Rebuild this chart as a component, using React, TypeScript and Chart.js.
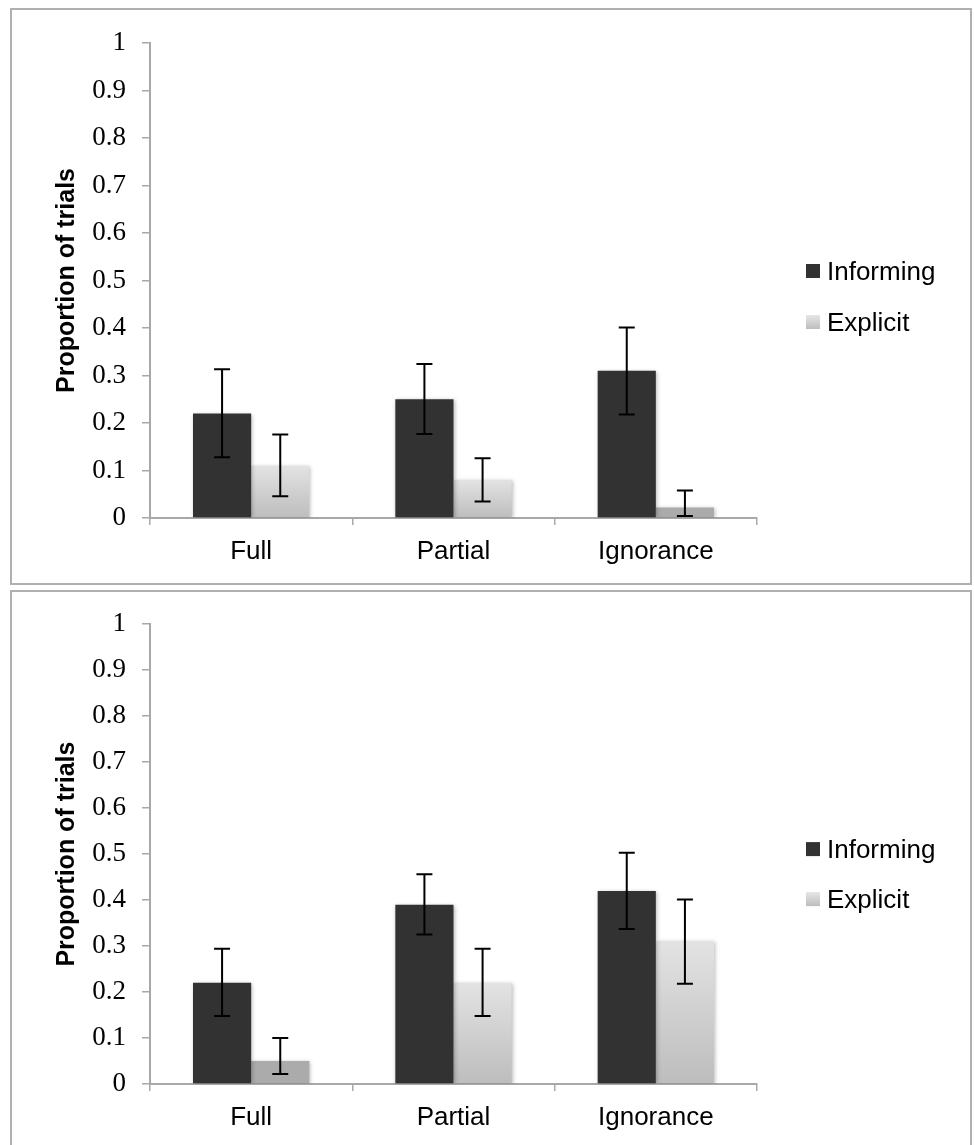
import React, { useEffect, useRef } from "react";
import { Chart, registerables } from "chart.js";

Chart.register(...registerables);

// ---- data ----
const categories = ["Full", "Partial", "Ignorance"];
const seriesNames = ["Informing", "Explicit"];
const yTickLabels = ["0", "0.1", "0.2", "0.3", "0.4", "0.5", "0.6", "0.7", "0.8", "0.9", "1"];
const yAxisTitle = "Proportion of trials";

// top panel
const p1Informing = [0.22, 0.25, 0.31];
const p1InformingLow = [0.128, 0.177, 0.218];
const p1InformingHigh = [0.313, 0.324, 0.401];
const p1Explicit = [0.11, 0.08, 0.022];
const p1ExplicitLow = [0.046, 0.035, 0.004];
const p1ExplicitHigh = [0.176, 0.126, 0.058];

// bottom panel
const p2Informing = [0.22, 0.39, 0.42];
const p2InformingLow = [0.148, 0.325, 0.337];
const p2InformingHigh = [0.294, 0.456, 0.503];
const p2Explicit = [0.05, 0.22, 0.31];
const p2ExplicitLow = [0.022, 0.148, 0.218];
const p2ExplicitHigh = [0.1, 0.294, 0.401];

const INFORMING_COLOR = "#323232";
const AXIS_COLOR = "#a8a8a8";

type PanelProps = {
  informing: number[];
  informingLow: number[];
  informingHigh: number[];
  explicit: number[];
  explicitLow: number[];
  explicitHigh: number[];
  top: number;
  height: number;
  chartTop: number;
  xAxisHeight: number;
  legendOffsets: number[];
};

const CANVAS_W = 958;
const CHART_LEFT = 138;
const CHART_RIGHT = 745;
const TITLE_PAD = 40;

function explicitFill(ctx: any) {
  const chart = ctx.chart;
  const { chartArea, scales } = chart;
  if (!chartArea || !scales || !scales.y || ctx.type !== "data") return "#d2d2d2";
  const v = ctx.raw as number;
  const yTop = scales.y.getPixelForValue(v);
  const yBot = scales.y.getPixelForValue(0);
  if (yBot - yTop < 30) return "#ababab";
  const g = chart.ctx.createLinearGradient(0, yTop, 0, yBot);
  g.addColorStop(0, "#e3e3e3");
  g.addColorStop(1, "#bdbdbd");
  return g;
}

function Panel(props: PanelProps) {
  const ref = useRef<HTMLCanvasElement | null>(null);
  useEffect(() => {
    if (!ref.current) return;
    const lows = [props.informingLow, props.explicitLow];
    const highs = [props.informingHigh, props.explicitHigh];

    const shadowPlugin = {
      id: "barShadow",
      beforeDatasetsDraw(chart: any) {
        const c = chart.ctx;
        c.save();
        c.shadowColor = "rgba(0,0,0,0.28)";
        c.shadowBlur = 4;
        c.shadowOffsetX = 1;
        c.shadowOffsetY = 1;
      },
      afterDatasetsDraw(chart: any) {
        const c = chart.ctx;
        c.restore();
        // error bars
        const y = chart.scales.y;
        c.save();
        c.strokeStyle = "#000";
        c.lineWidth = 2;
        for (let d = 0; d < chart.data.datasets.length; d++) {
          const meta = chart.getDatasetMeta(d);
          meta.data.forEach((bar: any, i: number) => {
            const x = bar.x;
            const yl = y.getPixelForValue(lows[d][i]);
            const yh = y.getPixelForValue(highs[d][i]);
            c.beginPath();
            c.moveTo(x, yl);
            c.lineTo(x, yh);
            c.moveTo(x - 8, yl);
            c.lineTo(x + 8, yl);
            c.moveTo(x - 8, yh);
            c.lineTo(x + 8, yh);
            c.stroke();
          });
        }
        c.restore();
      },
    };

    const legendPlugin = {
      id: "sideLegend",
      afterDraw(chart: any) {
        const c = chart.ctx;
        const area = chart.chartArea;
        const cy = (area.top + area.bottom) / 2;
        const sqX = 794;
        const textX = 815;
        c.save();
        seriesNames.forEach((name, i) => {
          const yc = cy + props.legendOffsets[i];
          if (i === 0) {
            c.fillStyle = INFORMING_COLOR;
          } else {
            const g = c.createLinearGradient(0, yc - 7, 0, yc + 7);
            g.addColorStop(0, "#e6e6e6");
            g.addColorStop(1, "#bdbdbd");
            c.fillStyle = g;
          }
          c.fillRect(sqX, yc - 7, 14, 14);
          c.fillStyle = "#000";
          c.font = "26px 'Liberation Sans', Arial, sans-serif";
          c.textBaseline = "middle";
          c.textAlign = "left";
          c.fillText(name, textX, yc + 2);
        });
        c.restore();
      },
    };

    const chart = new Chart(ref.current, {
      type: "bar",
      data: {
        labels: categories,
        datasets: [
          {
            label: seriesNames[0],
            data: props.informing,
            backgroundColor: INFORMING_COLOR,
            borderWidth: 0,
            categoryPercentage: 0.575,
            barPercentage: 1,
          },
          {
            label: seriesNames[1],
            data: props.explicit,
            backgroundColor: explicitFill as any,
            borderWidth: 0,
            categoryPercentage: 0.575,
            barPercentage: 1,
          },
        ],
      },
      options: {
        animation: false,
        responsive: false,
        devicePixelRatio: 1,
        layout: {
          padding: {
            left: TITLE_PAD,
            top: props.chartTop,
            right: CANVAS_W - CHART_RIGHT,
            bottom: 0,
          },
        },
        plugins: {
          legend: { display: false },
          tooltip: { enabled: false },
        },
        scales: {
          x: {
            grid: {
              offset: true,
              drawOnChartArea: false,
              drawTicks: true,
              tickLength: 7,
              color: AXIS_COLOR,
              lineWidth: 1.5,
            },
            border: { color: AXIS_COLOR, width: 2 },
            ticks: {
              color: "#000",
              padding: 11,
              font: { family: "'Liberation Sans', Arial, sans-serif", size: 26 },
            },
            afterFit(scale: any) {
              scale.height = props.xAxisHeight;
            },
          },
          y: {
            min: 0,
            max: 1,
            ticks: {
              stepSize: 0.1,
              color: "#000",
              padding: 16,
              font: { family: "'Liberation Serif', 'Times New Roman', serif", size: 27 },
              callback: (_v: any, i: number) => yTickLabels[i],
            },
            grid: {
              drawOnChartArea: false,
              drawTicks: true,
              tickLength: 8,
              color: AXIS_COLOR,
              lineWidth: 1.5,
            },
            border: { color: AXIS_COLOR, width: 2 },
            title: {
              display: true,
              text: yAxisTitle,
              color: "#000",
              padding: 0,
              font: { family: "'Liberation Sans', Arial, sans-serif", size: 25, weight: "bold" },
            },
            afterFit(scale: any) {
              scale.width = CHART_LEFT - TITLE_PAD;
            },
          },
        },
      },
      plugins: [shadowPlugin, legendPlugin],
    });
    return () => chart.destroy();
  }, []);

  return (
    <div
      style={{
        position: "absolute",
        left: 10,
        top: props.top,
        width: CANVAS_W + 4,
        height: props.height + 4,
        boxSizing: "border-box",
        border: "2px solid #b0b0b0",
        background: "#fff",
      }}
    >
      <canvas
        ref={ref}
        width={CANVAS_W}
        height={props.height}
        style={{ display: "block", width: CANVAS_W, height: props.height }}
      />
    </div>
  );
}

export default function App() {
  return (
    <div
      style={{
        position: "fixed",
        left: 0,
        top: 0,
        width: 974,
        height: 1145,
        overflow: "hidden",
        background: "#fff",
      }}
    >
      <Panel
        informing={p1Informing}
        informingLow={p1InformingLow}
        informingHigh={p1InformingHigh}
        explicit={p1Explicit}
        explicitLow={p1ExplicitLow}
        explicitHigh={p1ExplicitHigh}
        top={8}
        height={573}
        chartTop={33}
        xAxisHeight={65}
        legendOffsets={[-9.5, 41.5]}
      />
      <Panel
        informing={p2Informing}
        informingLow={p2InformingLow}
        informingHigh={p2InformingHigh}
        explicit={p2Explicit}
        explicitLow={p2ExplicitLow}
        explicitHigh={p2ExplicitHigh}
        top={590}
        height={553}
        chartTop={32}
        xAxisHeight={61}
        legendOffsets={[-5, 45]}
      />
    </div>
  );
}
